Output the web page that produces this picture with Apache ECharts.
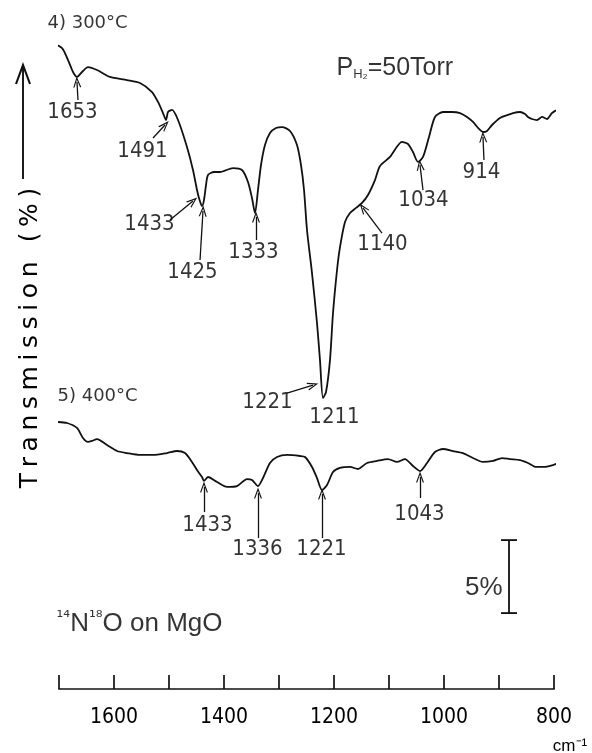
<!DOCTYPE html>
<html>
<head>
<meta charset="utf-8">
<script src="https://cdn.jsdelivr.net/npm/echarts@6.0.0/dist/echarts.min.js"></script>
<style>
html,body{margin:0;padding:0;background:#fff;}
#c{width:592px;height:753px;}
</style>
</head>
<body>
<div id="c"></div>
<script>
// ---- data (wavenumber cm-1, transmission %) ----
const curve300 = [[1713,44.25],[1694.5,43.9],[1683.6,43.08],[1674.5,42.26],[1667.3,41.92],[1658.2,42.26],[1647.3,42.6],[1630.9,42.4],[1607.3,41.92],[1576.4,41.71],[1552.7,41.51],[1530.9,40.89],[1520,40.21],[1510.9,39.45],[1505.5,38.97],[1501.8,39.52],[1494.5,39.66],[1483.6,38.97],[1467.3,37.12],[1456.4,35.55],[1449.1,34.18],[1445.5,33.63],[1440,33.08],[1436.4,33.49],[1432.7,34.52],[1429.1,35.21],[1418.2,35.41],[1407.3,35.41],[1383.6,35.68],[1367.3,35.55],[1356.4,34.73],[1349.1,33.63],[1343.6,32.6],[1338.2,34.18],[1332.7,35.89],[1325.5,37.26],[1316.4,38.08],[1305.5,38.42],[1294.5,38.49],[1280,38.22],[1267.3,37.26],[1260,35.89],[1254.5,34.18],[1249.1,31.44],[1240,28.49],[1230.9,25.07],[1225.5,22.53],[1220,19.93],[1214.5,20.34],[1207.3,22.53],[1201.8,25.75],[1194.5,28.7],[1189.1,30.27],[1180,31.99],[1170.9,32.6],[1160,32.95],[1149.1,33.29],[1138.2,33.84],[1125.5,34.86],[1116.4,35.82],[1098.2,36.44],[1076.4,37.47],[1065.5,37.33],[1056.4,36.78],[1047.3,36.1],[1038.2,36.44],[1027.3,37.81],[1016.4,39.18],[1001.8,39.52],[985.5,39.52],[970.9,39.45],[958.2,39.18],[947.3,38.84],[936.4,38.36],[929.1,38.15],[921.8,38.22],[912.7,38.63],[898.2,39.11],[883.6,39.32],[874.5,39.45],[861.8,39.52],[852.7,39.38],[847.3,39.18],[840,39.04],[830.9,38.97],[821.8,39.18],[812.7,39.04],[803.6,39.45],[792.7,39.66],[785.5,39.52]];

const curve400 = [[1703.6,18.29],[1685.5,18.22],[1667.3,17.88],[1656.4,17.19],[1647.3,16.92],[1640,16.99],[1630.9,17.12],[1612.7,16.71],[1594.5,16.3],[1576.4,16.16],[1552.7,16.03],[1529.1,16.03],[1503.6,16.16],[1485.5,16.3],[1470.9,16.16],[1458.2,15.55],[1449.1,15.0],[1440,14.52],[1436.4,14.25],[1429.1,14.52],[1412.7,14.18],[1394.5,13.84],[1376.4,13.9],[1358.2,14.38],[1349.1,14.32],[1338.2,13.9],[1329.1,14.45],[1316.4,15.48],[1303.6,15.89],[1285.5,16.03],[1261.8,15.96],[1252.7,15.89],[1240,15.21],[1230.9,14.45],[1221.8,13.63],[1212.7,13.97],[1201.8,14.86],[1189.1,15.14],[1170.9,15.21],[1156.4,15.07],[1140,15.48],[1121.8,15.62],[1101.8,15.75],[1085.5,15.55],[1070.9,15.75],[1056.4,15.27],[1043.6,14.93],[1030.9,15.48],[1016.4,16.23],[1001.8,16.44],[983.6,16.3],[965.5,16.16],[947.3,15.82],[929.1,15.55],[910.9,15.62],[894.5,15.82],[880,15.75],[861.8,15.68],[847.3,15.48],[832.7,15.21],[818.2,15.21],[801.8,15.34],[790.9,15.48],[781.8,15.55],[774.5,15.34]];

const tickLabels = [1600, 1400, 1200, 1000, 800];

// peak labels: text, label position, arrow start, arrow end
const peaks300 = ['1653','1491','1433','1425','1333','1221','1140','1034','914'];
const peaks300Label = [[1674.5,39.45],[1547.3,36.78],[1534.5,31.78],[1456.4,28.49],[1345.5,29.86],[1320,19.59],[1110.9,30.41],[1036.4,33.42],[930.9,35.34]];
const peaks300From = [[1665.5,40.34],[1529.1,37.74],[1498.2,32.12],[1443.6,29.38],[1341.8,30.75],[1285.5,20.27],[1112.7,31.23],[1038.2,34.18],[927.3,36.23]];
const peaks300To = [[1667.3,41.58],[1507.3,38.63],[1456.4,33.42],[1438.2,32.74],[1341.8,32.33],[1238.2,20.82],[1147.3,32.95],[1043.6,35.89],[929.1,37.81]];
const extra300 = ['1211'];
const extra300Label = [[1198.2,18.56]];

const peaks400 = ['1433','1336','1221','1043'];
const peaks400Label = [[1429.1,11.16],[1338.2,9.52],[1221.8,9.52],[1043.6,11.92]];
const peaks400From = [[1436.4,12.12],[1338.2,10.34],[1221.8,10.34],[1043.6,13.08]];
const peaks400To = [[1436.4,13.84],[1338.2,13.42],[1221.8,13.36],[1043.6,14.52]];

const titles = ['4) 300°C', '5) 400°C'];
const titlePos = [[1720,45.58],[1701.8,20.0]];
const pressureText = 'PH₂=50Torr';
const pressurePos = [1194.5,42.47];
const sampleText = '¹⁴N¹⁸O on MgO';
const samplePos = [1703.6,4.45];
const scaleBar = [[881.8,5.2],[881.8,10.2]];
const scaleText = '5%';
const scalePos = [892.7,6.92];

// ---- spaced lettering for the rotated axis title (drawn glyph by glyph) ----
const SPACED_TITLE = 'Transmission (%)';
(function(){
  const orig = CanvasRenderingContext2D.prototype.fillText;
  CanvasRenderingContext2D.prototype.fillText = function(t, x, y){
    if (t === SPACED_TITLE) {
      const sp = 5.6;
      const chars = Array.from(t);
      const w = chars.map(c => this.measureText(c).width);
      const total = w.reduce((a, b) => a + b, 0) + sp * (chars.length - 1);
      const align = this.textAlign;
      let cx = x;
      if (align === 'center') cx = x - total / 2;
      else if (align === 'right' || align === 'end') cx = x - total;
      this.textAlign = 'left';
      chars.forEach((c, i) => { orig.call(this, c, cx, y); cx += w[i] + sp; });
      this.textAlign = align;
      return;
    }
    return orig.apply(this, arguments);
  };
})();

const INK = '#000000';
const LINE = '#111111';
const NUMFONT = '"Liberation Sans Narrow","DejaVu Sans Condensed","Liberation Sans",sans-serif';
const arrowHead = 'path://M0,10L5,0L10,10L8.5,10L5,3L1.5,10Z';

function arrowLines(from, to){
  return from.map((f, i) => [{coord: f}, {coord: to[i]}]);
}

const labelData = [];
peaks300.forEach((t, i) => labelData.push({name: t, value: peaks300Label[i]}));
extra300.forEach((t, i) => labelData.push({name: t, value: extra300Label[i]}));
peaks400.forEach((t, i) => labelData.push({name: t, value: peaks400Label[i]}));
titles.forEach((t, i) => labelData.push({name: t, value: titlePos[i],
  label: {align: 'left', fontFamily: '"DejaVu Sans",sans-serif', fontSize: 18}}));
labelData.push({name: pressureText, value: pressurePos,
  label: {align: 'left', formatter: '{p|P}{s|H₂}{p|=50Torr}',
    rich: {p: {fontFamily: '"Liberation Sans",sans-serif', fontSize: 25, color: INK},
           s: {fontFamily: '"Liberation Sans",sans-serif', fontSize: 13, color: INK, verticalAlign: 'bottom'}}}});
labelData.push({name: sampleText, value: samplePos,
  label: {align: 'left', formatter: '{s|¹⁴}{b|N}{s|¹⁸}{b|O on MgO}',
    rich: {b: {fontFamily: '"Liberation Sans",sans-serif', fontSize: 26, color: INK},
           s: {fontFamily: '"DejaVu Sans",sans-serif', fontSize: 17, color: INK, verticalAlign: 'top'}}}});
labelData.push({name: scaleText, value: scalePos,
  label: {align: 'right', fontFamily: '"Liberation Sans",sans-serif', fontSize: 26}});

const chart = echarts.init(document.getElementById('c'), null, {renderer: 'canvas'});
chart.setOption({
  backgroundColor: '#ffffff',
  animation: false,
  grid: {left: 59, right: 38, top: 32, bottom: 64, containLabel: false},
  xAxis: {
    type: 'value', min: 800, max: 1700, interval: 100, inverse: true,
    axisLine: {show: true, lineStyle: {color: LINE, width: 1.7}},
    axisTick: {show: true, inside: true, length: 14, lineStyle: {color: LINE, width: 1.7}},
    axisLabel: {show: true, margin: 18, color: INK, fontFamily: NUMFONT, fontSize: 21,
      showMinLabel: true, showMaxLabel: true,
      formatter: v => tickLabels.indexOf(v) >= 0 ? String(v) : ''},
    splitLine: {show: false}
  },
  yAxis: {type: 'value', min: 0, max: 45, show: false},
  series: [
    {
      type: 'line', name: '300°C', data: curve300, showSymbol: false, symbol: 'none',
      smooth: 0.25, clip: false, silent: true,
      lineStyle: {color: LINE, width: 1.8},
      markLine: {
        silent: true, animation: false, symbol: ['none', arrowHead], symbolSize: [8, 11],
        label: {show: false}, emphasis: {disabled: true},
        lineStyle: {color: LINE, width: 1.3, type: 'solid'},
        data: arrowLines(peaks300From, peaks300To)
      }
    },
    {
      type: 'line', name: '400°C', data: curve400, showSymbol: false, symbol: 'none',
      smooth: 0.25, clip: false, silent: true,
      lineStyle: {color: LINE, width: 1.8},
      markLine: {
        silent: true, animation: false, symbol: ['none', arrowHead], symbolSize: [8, 11],
        label: {show: false}, emphasis: {disabled: true},
        lineStyle: {color: LINE, width: 1.3, type: 'solid'},
        data: arrowLines(peaks400From, peaks400To).concat([[
          {coord: scaleBar[0], symbol: 'rect', symbolSize: [16, 1.8], lineStyle: {width: 1.8}},
          {coord: scaleBar[1], symbol: 'rect', symbolSize: [16, 1.8]}
        ]])
      }
    },
    {
      type: 'scatter', name: 'labels', data: labelData, symbol: 'circle', symbolSize: 1,
      clip: false, silent: true, itemStyle: {color: 'rgba(0,0,0,0)'},
      label: {show: true, position: [0, 0], align: 'center', verticalAlign: 'middle',
        color: INK, fontFamily: NUMFONT, fontSize: 22, formatter: p => p.name}
    }
  ],
  graphic: [
    {type: 'text', x: 30, y: 338, rotation: Math.PI / 2, silent: true,
      style: {text: SPACED_TITLE, font: '25px "DejaVu Sans", sans-serif', fill: INK,
        align: 'center', verticalAlign: 'middle'}},
    {type: 'line', silent: true, shape: {x1: 23, y1: 179, x2: 23, y2: 66},
      style: {stroke: LINE, lineWidth: 1.9}},
    {type: 'polyline', silent: true, shape: {points: [[16, 84], [23, 65], [30, 84]]},
      style: {stroke: LINE, lineWidth: 2.1, fill: null}},
    {type: 'text', x: 570, y: 746, silent: true,
      style: {text: 'cm⁻¹', font: '17px "Liberation Sans", sans-serif', fill: INK,
        align: 'center', verticalAlign: 'middle'}}
  ]
});
</script>
</body>
</html>
